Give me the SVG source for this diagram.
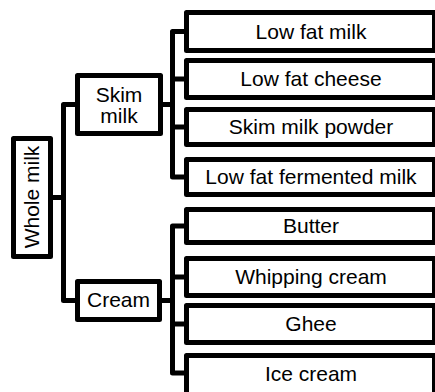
<svg xmlns="http://www.w3.org/2000/svg" width="435" height="392" viewBox="0 0 435 392">
<style>
.box{fill:#fff;stroke:#000;stroke-width:5;stroke-linejoin:round}
.lbl{font-family:"Liberation Sans",Arial,sans-serif;font-size:21px;fill:#000;text-anchor:middle}
.con{fill:none;stroke:#000;stroke-width:5;stroke-linejoin:round}
</style>
<rect width="435" height="392" fill="#fff"/>
<g id="connectors">
<path class="con" d="M53,197.5 H63.5 M75,104.5 H63.5 V300.5 H75"/>
<path class="con" d="M163,104.5 H172.5 M184,31.5 H172.5 V177 H184 M172.5,79 H184 M172.5,127 H184"/>
<path class="con" d="M162,300.5 H172.5 M184,226 H172.5 V373 H184 M172.5,277 H184 M172.5,324 H184"/>
</g>
<g id="whole-milk">
<rect class="box" x="13.5" y="138.5" width="37" height="118"/>
<text class="lbl" transform="translate(38.5,197) rotate(-90)">Whole milk</text>
</g>
<g id="skim-milk">
<rect class="box" x="77.5" y="75.5" width="83" height="58"/>
<text class="lbl" x="119" y="101.5">Skim</text>
<text class="lbl" x="119" y="123">milk</text>
</g>
<g id="cream">
<rect class="box" x="77.5" y="281.5" width="82" height="38"/>
<text class="lbl" x="118.5" y="307">Cream</text>
</g>
<g id="low-fat-milk">
<rect class="box" x="186.5" y="12.5" width="248" height="38"/>
<text class="lbl" x="311" y="38.5">Low fat milk</text>
</g>
<g id="low-fat-cheese">
<rect class="box" x="186.5" y="60.5" width="248" height="37"/>
<text class="lbl" x="311" y="86">Low fat cheese</text>
</g>
<g id="skim-milk-powder">
<rect class="box" x="186.5" y="109.5" width="248" height="35"/>
<text class="lbl" x="311" y="134">Skim milk powder</text>
</g>
<g id="low-fat-fermented-milk">
<rect class="box" x="186.5" y="159.5" width="248" height="35"/>
<text class="lbl" x="311" y="184">Low fat fermented milk</text>
</g>
<g id="butter">
<rect class="box" x="186.5" y="209.5" width="248" height="33"/>
<text class="lbl" x="311" y="233">Butter</text>
</g>
<g id="whipping-cream">
<rect class="box" x="186.5" y="258.5" width="248" height="37"/>
<text class="lbl" x="311" y="284">Whipping cream</text>
</g>
<g id="ghee">
<rect class="box" x="186.5" y="305.5" width="248" height="37"/>
<text class="lbl" x="311" y="331">Ghee</text>
</g>
<g id="ice-cream">
<rect class="box" x="186.5" y="355.5" width="248" height="40"/>
<text class="lbl" x="311" y="381">Ice cream</text>
</g>
</svg>
